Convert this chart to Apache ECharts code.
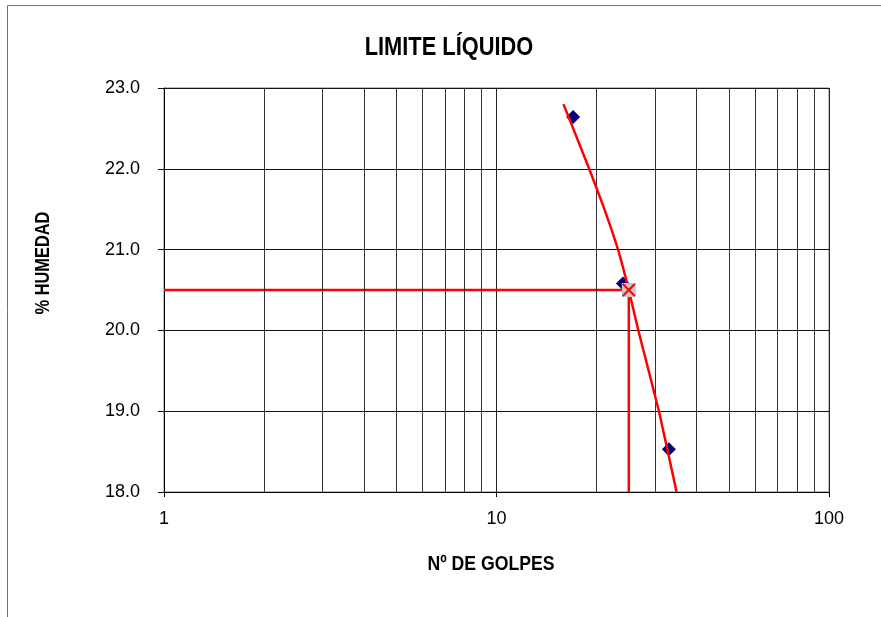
<!DOCTYPE html>
<html><head><meta charset="utf-8">
<script src="https://cdn.jsdelivr.net/npm/echarts@6/dist/echarts.min.js"></script>
<style>html,body{margin:0;padding:0;background:#fff}#c{width:881px;height:617px}</style>
</head><body><div id="c"></div>
<script>
const titleText = 'LIMITE LÍQUIDO';
const xAxisName = 'Nº DE GOLPES';
const yAxisName = '% HUMEDAD';
const golpes = [17, 24, 33];
const humedad = [22.64, 20.58, 18.53];
const curveX = [15.9, 19.0, 20.9, 23.2, 25.0, 26.7, 30.8, 34.8];
const curveY = [22.80, 22.0, 21.55, 21.0, 20.5, 20.0, 19.0, 18.0];
const llGolpes = 25;
const llHumedad = 20.5;
const xMin = 1, xMax = 100;
const yMin = 18, yMax = 23, yStep = 1;
const minorGridX = [2,3,4,5,6,7,8,9,20,30,40,50,60,70,80,90];

const FONT = "'Liberation Sans',Arial,sans-serif";
const pts = golpes.map((g,i)=>[g, humedad[i]]);
const curve = curveX.map((g,i)=>[g, curveY[i]]);
const guide = [[xMin, llHumedad],[llGolpes, llHumedad],[llGolpes, yMin]];

const chart = echarts.init(document.getElementById('c'), null, {renderer:'canvas'});
chart.setOption({
  animation:false,
  backgroundColor:'#fff',
  grid:{left:164, top:88, width:665, height:404, show:true, borderColor:'#808080', borderWidth:1, backgroundColor:'transparent'},
  xAxis:{type:'log', logBase:10, min:xMin, max:xMax,
    axisLine:{show:true, lineStyle:{color:'#000', width:1}},
    axisTick:{show:true, length:5, lineStyle:{color:'#000'}},
    axisLabel:{margin:18, fontFamily:FONT, fontSize:18, color:'#000'},
    splitLine:{show:true, lineStyle:{color:'#222', width:1}}},
  yAxis:{type:'value', min:yMin, max:yMax, interval:yStep,
    axisLine:{show:true, lineStyle:{color:'#000', width:1}},
    axisTick:{show:true, length:6, lineStyle:{color:'#000'}},
    axisLabel:{margin:24, fontFamily:FONT, fontSize:18, color:'#000', formatter:v=>v.toFixed(1)},
    splitLine:{show:true, lineStyle:{color:'#111', width:1}}},
  graphic:[
    {type:'rect', z:-10, silent:true, shape:{x:7.5, y:5.5, width:1000, height:1000}, style:{fill:'none', stroke:'#707070', lineWidth:1}},
    {type:'text', x:449, y:48, scaleX:0.84, silent:true, style:{text:titleText, fontFamily:FONT, fontWeight:'bold', fontSize:26, fill:'#000', textAlign:'center', textVerticalAlign:'middle'}},
    {type:'text', x:491, y:564, scaleX:0.84, silent:true, style:{text:xAxisName, fontFamily:FONT, fontWeight:'bold', fontSize:21, fill:'#000', textAlign:'center', textVerticalAlign:'middle'}},
    {type:'text', x:43, y:263, rotation:Math.PI/2, scaleX:0.78, silent:true, style:{text:yAxisName, fontFamily:FONT, fontWeight:'bold', fontSize:21, fill:'#000', textAlign:'center', textVerticalAlign:'middle'}}
  ],
  series:[
    {type:'line', data:[], markLine:{silent:true, symbol:'none', label:{show:false},
      lineStyle:{color:'#333', type:'solid', width:1},
      data:minorGridX.map(v=>({xAxis:v}))}, z:1},
    {type:'line', data:guide, symbol:'none', lineStyle:{color:'#ff0000', width:2.5}, z:3},
    {type:'scatter', data:pts, symbol:'diamond', symbolSize:14, itemStyle:{color:'#000080', opacity:1}, z:4},
    {type:'line', data:curve, smooth:0.12, symbol:'none', lineStyle:{color:'#ff0000', width:2.5}, z:5},
    {type:'scatter', data:[[llGolpes, llHumedad]], symbol:'rect', symbolSize:14, itemStyle:{color:'#c8c8c8', opacity:1}, z:6},
    {type:'scatter', data:[[llGolpes, llHumedad]], symbol:'path://M0,0L10,10M10,0L0,10', symbolSize:12,
      itemStyle:{color:'none', borderColor:'#ff0000', borderWidth:2, opacity:1}, z:7}
  ]
});
</script></body></html>
